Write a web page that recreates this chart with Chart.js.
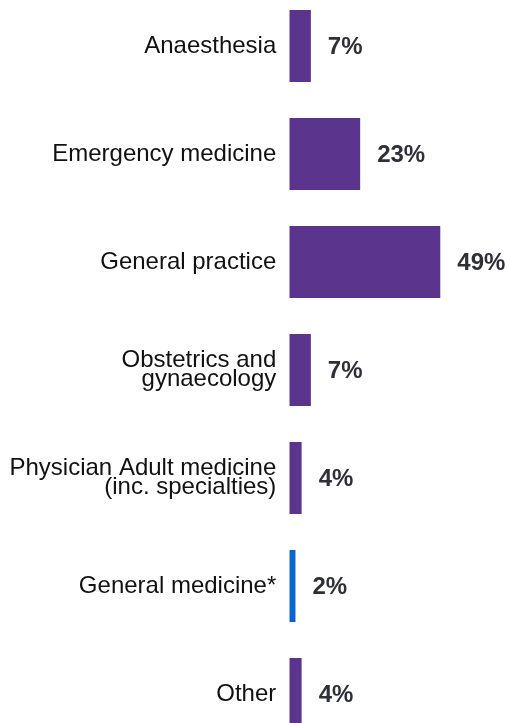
<!DOCTYPE html>
<html>
<head>
<meta charset="utf-8">
<script src="https://cdn.jsdelivr.net/npm/chart.js@4.4.1/dist/chart.umd.min.js"></script>
<style>
  html, body { margin: 0; padding: 0; background: #fff; overflow: hidden; width: 507px; height: 723px; }
  #wrap { position: absolute; left: 0; top: -8px; width: 507px; height: 756px; }
</style>
</head>
<body>
<div id="wrap"><canvas id="grafico" width="507" height="756"></canvas></div>
<script>
// --- DADOS ---
const categorias = [
    'Anaesthesia',
    'Emergency medicine',
    'General practice',
    ['Obstetrics and', 'gynaecology'],
    ['Physician Adult medicine', '(inc. specialties)'],
    'General medicine*',
    'Other'
];
const valores = [7, 23, 49, 7, 4, 2, 4];
const coresBarras = ['#5b358d', '#5b358d', '#5b358d', '#5b358d', '#5b358d', '#0a66cc', '#5b358d'];

const FONTE = '"Liberation Sans", Arial, sans-serif';

// rótulos de valor à direita de cada barra
const rotulosValor = {
    id: 'rotulosValor',
    afterDatasetsDraw(chart) {
        const ctx = chart.ctx;
        const meta = chart.getDatasetMeta(0);
        ctx.save();
        ctx.font = 'bold 24px ' + FONTE;
        ctx.fillStyle = '#2f2f3a';
        ctx.textAlign = 'left';
        ctx.textBaseline = 'middle';
        meta.data.forEach((bar, i) => {
            ctx.fillText(valores[i] + '%', bar.x + 17, bar.y + 1);
        });
        ctx.restore();
    }
};

const ctx = document.getElementById('grafico').getContext('2d');
const grafico = new Chart(ctx, {
    type: 'bar',
    data: {
        labels: categorias,
        datasets: [{
            data: valores,
            backgroundColor: coresBarras,
            barPercentage: 0.667,
            categoryPercentage: 1
        }]
    },
    options: {
        indexAxis: 'y',
        responsive: false,
        animation: false,
        layout: { padding: { left: 0, right: 2, top: 0, bottom: 0 } },
        plugins: { legend: { display: false }, tooltip: { enabled: false } },
        scales: {
            x: { display: false, min: 0, max: 70 },
            y: {
                grid: { display: false, drawTicks: false },
                border: { display: false },
                ticks: {
                    color: '#111',
                    padding: 13,
                    font: { family: FONTE, size: 24, lineHeight: 0.8 }
                },
                afterFit: s => {
                    s.width = 289.3;
                    s.paddingTop = 0;
                    s.paddingBottom = 0;
                }
            }
        }
    },
    plugins: [rotulosValor]
});
</script>
</body>
</html>
